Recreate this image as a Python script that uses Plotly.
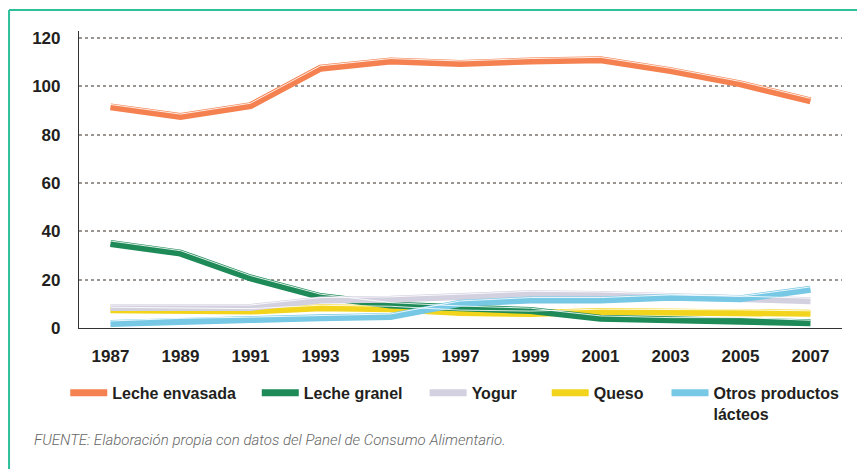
"""
Consumo de productos lacteos 1987-2007 (line chart).
"""
import plotly.graph_objects as go

years = [1987, 1989, 1991, 1993, 1995, 1997, 1999, 2001, 2003, 2005, 2007]
year_labels = [str(y) for y in years]

leche_envasada = [91.5, 87.5, 92, 107.5, 110.5, 109.5, 110.5, 111, 106.5, 101, 94]
leche_granel = [35, 31, 20.7, 13, 9.5, 8.1, 7.2, 4, 3.3, 3.3, 2.2]
yogur = [8.5, 8.5, 8.5, 11.6, 11.9, 13, 14.2, 13.9, 13.2, 12.2, 11.3]
queso = [7.6, 7.2, 7, 8.4, 8, 6.4, 6, 6.8, 6.8, 6.5, 6.1]
otros = [1.9, 3, 3.5, 4.2, 4.8, 10.2, 11.6, 11.6, 12.7, 12.1, 16]

y_ticks = [0, 20, 40, 60, 80, 100, 120]

series = [
    ("Queso", queso, "#F2D41C", "legend4"),
    ("Leche granel", leche_granel, "#1D8A58", "legend2"),
    ("Yogur", yogur, "#D3D0E0", "legend3"),
    ("Otros productos<br>lácteos", otros, "#76C8E5", "legend5"),
    ("Leche envasada", leche_envasada, "#F4814F", "legend"),
]

TEXT = "#231f20"
FAMILY = "Liberation Sans, Arial, sans-serif"
TICK_FONT = dict(family=FAMILY, size=17, color=TEXT, weight="bold")

fig = go.Figure()
for name, vals, color, leg in series:
    fig.add_trace(go.Scatter(
        x=years, y=vals, name=name, mode="lines",
        line=dict(color=color, width=7),
        legend=leg, cliponaxis=False,
    ))
# thin white highlight on top edge of each line
for name, vals, color, leg in series:
    fig.add_trace(go.Scatter(
        x=years, y=vals, mode="lines", yaxis="y2",
        line=dict(color="rgba(255,255,255,0.85)", width=1),
        showlegend=False, hoverinfo="skip", cliponaxis=False,
    ))

y_top = 122.9
shift = 1.0

leg_common = dict(
    orientation="h", yanchor="top", y=-0.161, xanchor="left",
    font=dict(family=FAMILY, size=16, color=TEXT, weight="bold"),
    bgcolor="rgba(0,0,0,0)", valign="top", itemwidth=37,
)
leg_x = {"legend": -0.018, "legend2": 0.233, "legend3": 0.453, "legend4": 0.613, "legend5": 0.77}

fig.update_layout(
    width=857, height=461,
    margin=dict(l=71, r=23, t=23, b=141),
    plot_bgcolor="white", paper_bgcolor="white",
    xaxis=dict(
        range=[1986.1, 2007.9], tickvals=years, ticktext=year_labels,
        showgrid=False, zeroline=False, showline=True, linecolor="#333", linewidth=1.2,
        ticks="", tickfont=TICK_FONT, ticklabelstandoff=12, fixedrange=True,
    ),
    yaxis=dict(
        range=[0, y_top], tickvals=y_ticks, showgrid=True, gridcolor="#9a9590",
        griddash="dot", gridwidth=1.6, zeroline=False, showline=True, linecolor="#333",
        linewidth=1.2, ticks="", tickfont=TICK_FONT, ticklabelstandoff=14,
    ),
    yaxis2=dict(
        range=[-shift, y_top - shift], overlaying="y", visible=False,
    ),
    showlegend=True,
)
for key, x in leg_x.items():
    fig.update_layout({key: dict(leg_common, x=x)})

fig.update_layout(
    shapes=[
        dict(type="line", xref="paper", yref="paper", x0=-0.0917, x1=1.04, y0=1.0707, y1=1.0707,
             line=dict(color="#2FBF9A", width=2)),
        dict(type="line", xref="paper", yref="paper", x0=-0.0917, x1=-0.0917, y0=1.0707, y1=-0.48,
             line=dict(color="#2FBF9A", width=2)),
    ],
    annotations=[
        dict(text="FUENTE: Elaboración propia con datos del Panel de Consumo Alimentario.",
             xref="paper", yref="paper", x=-0.0616, y=-0.377, xanchor="left", yanchor="middle",
             showarrow=False,
             font=dict(family="Roboto, sans-serif", size=15, color="#666666", style="italic", weight=300)),
    ],
)

fig.write_html("out.html")
